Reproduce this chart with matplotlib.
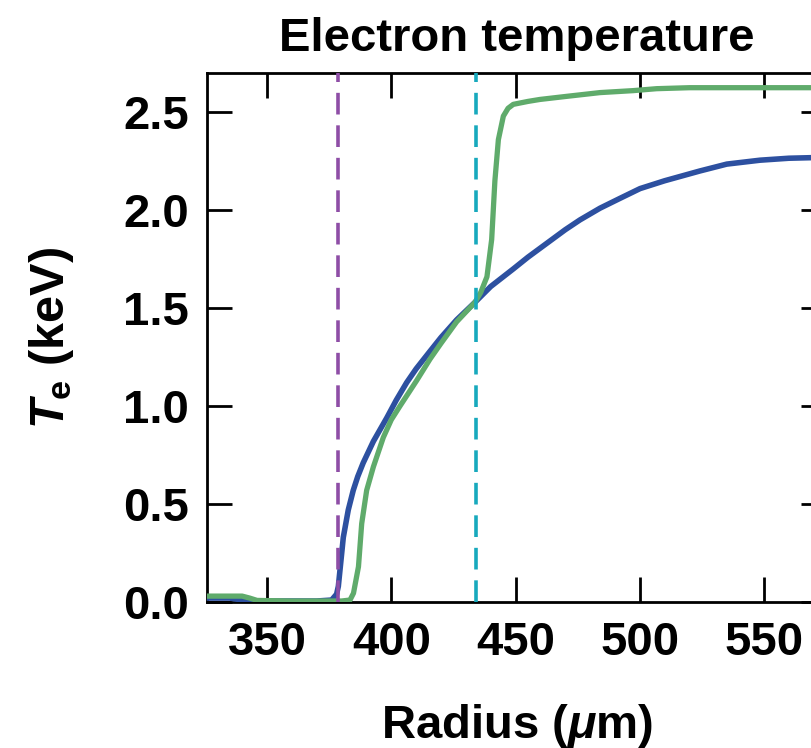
import matplotlib
matplotlib.use("Agg")
import matplotlib.pyplot as plt

plt.rcParams["font.family"] = ["Liberation Sans", "DejaVu Sans"]
plt.rcParams["font.weight"] = "bold"
plt.rcParams["mathtext.fontset"] = "custom"
plt.rcParams["mathtext.it"] = "Liberation Sans:italic:bold"
plt.rcParams["mathtext.rm"] = "Liberation Sans:bold"
plt.rcParams["mathtext.bf"] = "Liberation Sans:bold"

BLUE = "#2d50a0"
GREEN = "#5fab6b"
PURPLE = "#8e4ea6"
CYAN = "#17a9bd"

# blue profile
r_blue = [326, 335, 340, 345, 370, 376, 378.0, 378.7, 380.7, 382.7, 384.7, 386.5,
          388.7, 392.8, 398.2, 402, 406.2, 410, 415.6, 420, 426.3, 433.7, 440,
          449.1, 455, 462.5, 470, 475.9, 484, 492, 500.1, 510, 524.2, 535, 548.4,
          560, 576]
t_blue = [0.02, 0.02, 0.01, 0.005, 0.005, 0.01, 0.04, 0.08, 0.33, 0.47, 0.57, 0.64,
          0.71, 0.82, 0.94, 1.03, 1.12, 1.19, 1.28, 1.35, 1.44, 1.53, 1.61,
          1.70, 1.76, 1.83, 1.90, 1.95, 2.01, 2.06, 2.11, 2.15, 2.20, 2.235, 2.255,
          2.265, 2.27]

# green profile
r_green = [326, 335, 340, 343, 346, 360, 380, 383.4, 384.8, 386.8, 388.1, 390.1,
           392.8, 396.8, 400, 403.5, 410.2, 415.6, 420, 426.3, 433.7, 436, 438.5,
           440.4, 441.7, 443.1, 445.1, 447, 449.1, 455, 459.8, 470, 484, 497.3,
           506.8, 520, 576]
t_green = [0.03, 0.03, 0.03, 0.02, 0.008, 0.005, 0.005, 0.01, 0.045, 0.18, 0.40, 0.57,
           0.69, 0.84, 0.93, 1.0, 1.13, 1.24, 1.32, 1.43, 1.53, 1.58, 1.66,
           1.85, 2.15, 2.36, 2.48, 2.52, 2.54, 2.555, 2.565, 2.58, 2.60, 2.61,
           2.62, 2.625, 2.625]

# marker radii
r_inner = 378.7
r_outer = 434.1

xticks = [350, 400, 450, 500, 550]
yticks = [0.0, 0.5, 1.0, 1.5, 2.0, 2.5]

fig = plt.figure(figsize=(8.11, 7.48), dpi=100)
ax = fig.add_axes([0.2557, 0.1952, 0.763, 0.7072])

ax.plot(r_blue, t_blue, color=BLUE, lw=4.0, zorder=3)
ax.plot(r_green, t_green, color=GREEN, lw=3.8, zorder=3)
ax.axvline(r_inner, color=PURPLE, lw=2.6, ls=(0, (6, 3)), zorder=4)
ax.axvline(r_outer, color=CYAN, lw=2.6, ls=(0, (6, 3)), zorder=4)

ax.set_xlim(326, 575)
ax.set_ylim(0, 2.7)
ax.set_xticks(xticks)
ax.set_yticks(yticks)
ax.set_yticklabels([f"{v:.1f}" for v in yticks])

ax.tick_params(direction="in", length=18, width=2, top=True, right=True,
               labelsize=34, pad=14)
ax.tick_params(axis="y", pad=13)
for s in ax.spines.values():
    s.set_linewidth(2)

ax.set_title("Electron temperature", fontsize=34, fontweight="bold", pad=16)
ax.set_xlabel(r"Radius ($\mu$m)", fontsize=34, fontweight="bold", labelpad=26)
ax.set_ylabel(r"$T_\mathrm{e}$ (keV)", fontsize=35, fontweight="bold", labelpad=34)

fig.savefig("out.png", dpi=100)
